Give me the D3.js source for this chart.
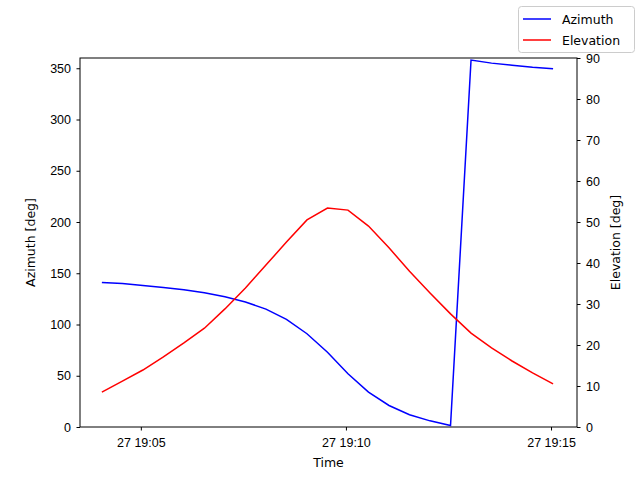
<!DOCTYPE html>
<html><head><meta charset="utf-8">
<script src="https://cdn.jsdelivr.net/npm/d3@7"></script>
<style>body{margin:0;background:#fff}svg{font-family:"DejaVu Sans",sans-serif}</style>
</head><body><svg id="c" width="640" height="480"></svg>
<script>
const startTime = "2024-01-27T19:04:03";
const stepSeconds = 30;
const azimuth = [141,140,138,136,134,131,127,122,115,105,91,73,52,34,21,12,6,1.5,358,355,353,351,349.5];
const elevation = [8.5,11.2,13.9,17.1,20.5,24.1,28.8,33.9,39.5,45.1,50.5,53.4,52.9,49,43.7,38,32.7,27.6,22.9,19.3,16.1,13.2,10.5];
const xTicks = ["2024-01-27T19:05:00","2024-01-27T19:10:00","2024-01-27T19:15:00"];
const azTicks = [0,50,100,150,200,250,300,350];
const elTicks = [0,10,20,30,40,50,60,70,80,90];

const t0 = new Date(startTime);
const times = azimuth.map((_, i) => new Date(t0.getTime() + i*stepSeconds*1000));
const svg = d3.select("#c");
const L=80,R=577,T=58,B=427;
const x = d3.scaleTime().domain([new Date(t0.getTime()-32000), new Date(t0.getTime()+22*30000+35000)]).range([L,R]);
const yA = d3.scaleLinear().domain([0,360]).range([B,T]);
const yE = d3.scaleLinear().domain([0,90]).range([B,T]);
const fmt = d => "27 " + d3.timeFormat("%H:%M")(d);
const ax = svg.append("g").attr("transform",`translate(0,${B})`).call(d3.axisBottom(x).tickValues(xTicks.map(s=>new Date(s))).tickFormat(fmt).tickSizeOuter(0));
const al = svg.append("g").attr("transform",`translate(${L},0)`).call(d3.axisLeft(yA).tickValues(azTicks).tickSizeOuter(0));
const ar = svg.append("g").attr("transform",`translate(${R},0)`).call(d3.axisRight(yE).tickValues(elTicks).tickSizeOuter(0));
[ax,al,ar].forEach(g=>{g.selectAll("text").attr("font-size",12.5).attr("fill","#000");g.selectAll("line").attr("stroke","#000").attr("x2",function(){return this.getAttribute("x2")?(+this.getAttribute("x2")>0?3.5:-3.5):null;});g.select(".domain").remove();});
ax.selectAll("line").attr("y2",3.5);
ax.selectAll("text").attr("dy","0.9em");
svg.append("rect").attr("x",L).attr("y",T).attr("width",R-L).attr("height",B-T).attr("fill","none").attr("stroke","#000");
svg.append("path").datum(azimuth).attr("fill","none").attr("stroke","blue").attr("stroke-width",1.5)
  .attr("d",d3.line().x((d,i)=>x(times[i])).y(d=>yA(d)));
svg.append("path").datum(elevation).attr("fill","none").attr("stroke","red").attr("stroke-width",1.5)
  .attr("d",d3.line().x((d,i)=>x(times[i])).y(d=>yE(d)));
svg.append("text").attr("x",(L+R)/2).attr("y",467).attr("text-anchor","middle").attr("font-size",12.5).text("Time");
svg.append("text").attr("transform",`translate(35,${(T+B)/2}) rotate(-90)`).attr("text-anchor","middle").attr("font-size",12.5).text("Azimuth [deg]");
svg.append("text").attr("transform",`translate(620,${(T+B)/2}) rotate(-90)`).attr("text-anchor","middle").attr("font-size",12.5).text("Elevation [deg]");
const lg = svg.append("g");
lg.append("rect").attr("x",518.5).attr("y",6.5).attr("width",116).attr("height",46).attr("rx",3).attr("fill","#fff").attr("stroke","#ccc");
[["Azimuth","blue"],["Elevation","red"]].forEach(([n,c],i)=>{
  const y=19+i*21;
  lg.append("line").attr("x1",523).attr("x2",551).attr("y1",y).attr("y2",y).attr("stroke",c).attr("stroke-width",1.5);
  lg.append("text").attr("x",562).attr("y",y+4.5).attr("font-size",12.5).text(n);
});
</script></body></html>
